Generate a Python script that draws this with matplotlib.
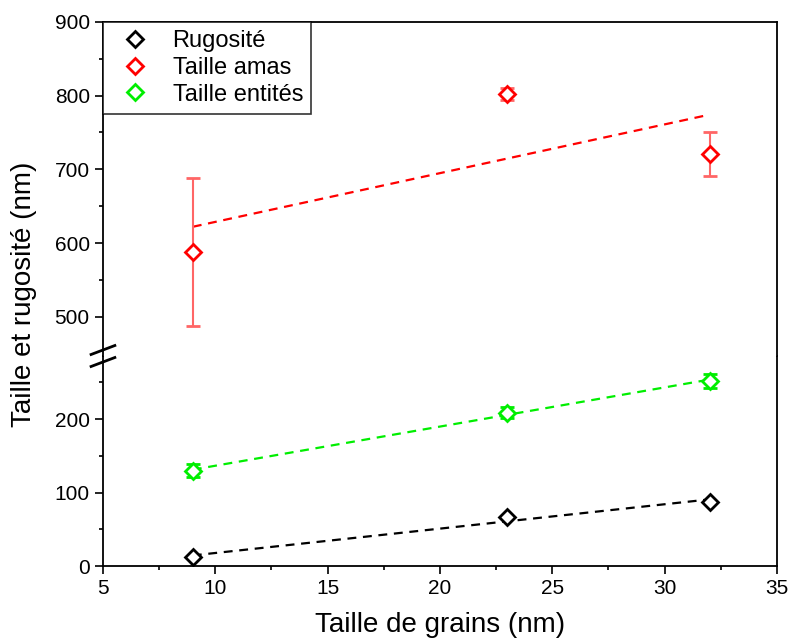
import numpy as np
import matplotlib.pyplot as plt
from matplotlib.lines import Line2D

plt.rcParams['font.family'] = ['Liberation Sans', 'DejaVu Sans']

# données
grains = [9, 23, 32]
rugosite = [12, 67, 87]
rugosite_err = [0, 0, 0]
amas = [588, 802, 721]
amas_err = [100, 8, 30]
entites = [130, 209, 252]
entites_err = [9, 8, 9]

series = [
    ('Rugosité', rugosite, rugosite_err, 'black', 'black'),
    ('Taille amas', amas, amas_err, 'red', '#ff6666'),
    ('Taille entités', entites, entites_err, '#00ee00', '#00ee00'),
]

fig = plt.figure(figsize=(7.92, 6.41), dpi=100)
left, right, bottom, top = 0.130, 0.981, 0.117, 0.966
y_break = 0.117 + 210 / 641
ax_bot = fig.add_axes([left, bottom, right - left, y_break - bottom])
ax_top = fig.add_axes([left, y_break, right - left, top - y_break], sharex=ax_bot)

for ax in (ax_bot, ax_top):
    for name, vals, err, col, ecol in series:
        ax.errorbar(grains, vals, yerr=err, fmt='D', ms=8, mfc='white', mec=col,
                    mew=2, ecolor=ecol, elinewidth=1.5, capsize=5, capthick=1.5,
                    zorder=3)
        # ajustement linéaire
        p = np.polyfit(grains, vals, 1)
        xs = np.array([grains[0], grains[-1]])
        ax.plot(xs, np.polyval(p, xs), ls=(0, (4, 3)), color=col, lw=1.6, zorder=2)
    ax.tick_params(which='major', direction='out', length=6, width=1.2, labelsize=15)
    ax.tick_params(which='minor', direction='out', length=3, width=1.2)
    for s in ax.spines.values():
        s.set_linewidth(1.3)

ax_bot.set_xlim(5, 35)
ax_bot.set_xticks([5, 10, 15, 20, 25, 30, 35])
ax_bot.set_xticks(np.arange(7.5, 35, 5), minor=True)
ax_bot.set_ylim(0, 286)
ax_bot.set_yticks([0, 100, 200])
ax_bot.set_yticks([50, 150, 250], minor=True)
ax_bot.spines['top'].set_visible(False)

ax_top.set_ylim(447, 900)
ax_top.set_yticks([500, 600, 700, 800, 900])
ax_top.set_yticks([550, 650, 750, 850], minor=True)
ax_top.spines['bottom'].set_visible(False)
ax_top.tick_params(axis='x', which='both', bottom=False, labelbottom=False)

# marques de coupure
for dy in (-6, 6):
    yy = (y_break * 641 + dy) / 641
    fig.add_artist(Line2D([left - 0.015, left + 0.015], [yy - 0.007, yy + 0.007],
                          transform=fig.transFigure, color='black', lw=2))

ax_bot.set_xlabel('Taille de grains (nm)', fontsize=20, labelpad=10)
fig.text(0.03, 0.5 * (bottom + top), 'Taille et rugosité (nm)', rotation=90,
         fontsize=20, va='center', ha='center')

handles = [Line2D([], [], ls='none', marker='D', ms=8, mfc='white', mec=c, mew=2)
           for _, _, _, c, _ in series]
leg = ax_top.legend(handles, [s[0] for s in series], loc='upper left',
                    bbox_to_anchor=(0, 1), fontsize=17, frameon=True, fancybox=False,
                    edgecolor='black', borderaxespad=0, handletextpad=0.6,
                    labelspacing=0.2, borderpad=0.35)
leg.get_frame().set_linewidth(1.2)

fig.savefig('out.png', dpi=100)
